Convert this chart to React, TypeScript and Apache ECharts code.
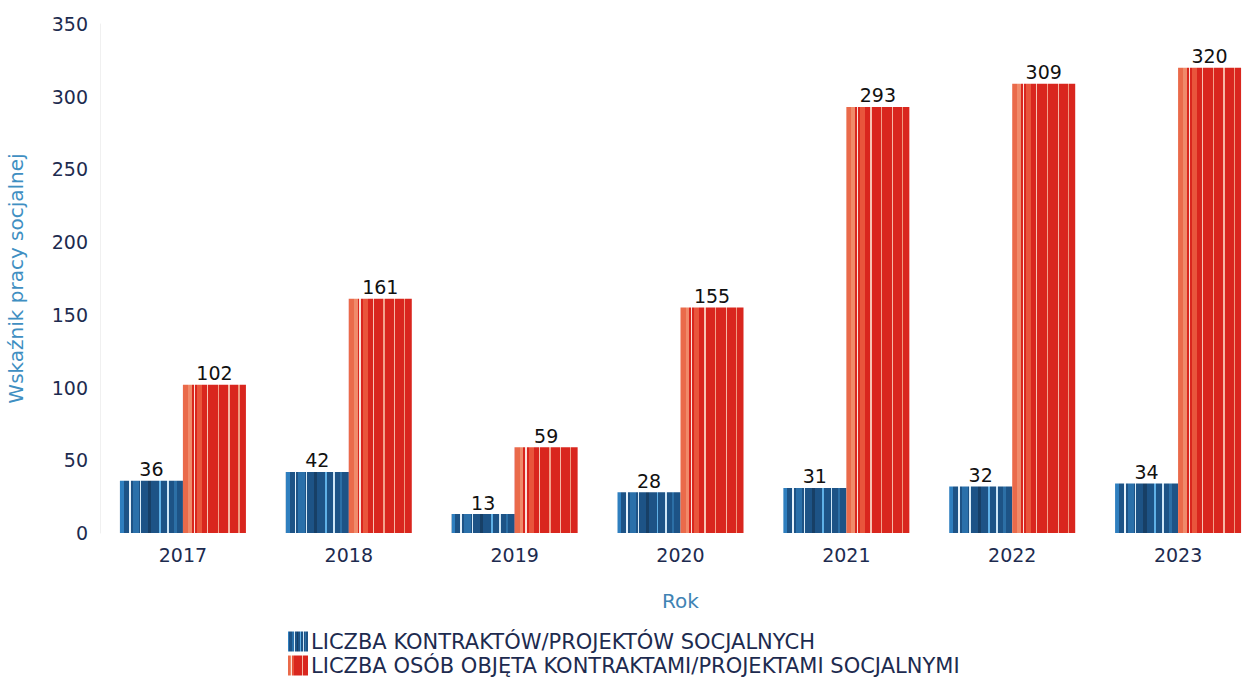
import React, { useEffect, useRef } from "react";
import * as echarts from "echarts";

const years = ["2017", "2018", "2019", "2020", "2021", "2022", "2023"];
const contracts = [36, 42, 13, 28, 31, 32, 34];
const persons = [102, 161, 59, 155, 293, 309, 320];
const seriesNames = [
  "LICZBA KONTRAKTÓW/PROJEKTÓW SOCJALNYCH",
  "LICZBA OSÓB OBJĘTA KONTRAKTAMI/PROJEKTAMI SOCJALNYMI",
];
const yTicks = { min: 0, max: 350, interval: 50 };

const FONT = "'DejaVu Sans', 'Noto Sans', sans-serif";

function stripes(base: string, bands: [number, number, string][]) {
  const stops: { offset: number; color: string }[] = [];
  let pos = 0;
  bands.forEach(([a, b, c]) => {
    stops.push({ offset: pos, color: base });
    stops.push({ offset: a, color: base });
    stops.push({ offset: a, color: c });
    stops.push({ offset: b, color: c });
    stops.push({ offset: b, color: base });
    pos = b;
  });
  stops.push({ offset: 1, color: base });
  return new echarts.graphic.LinearGradient(0, 0, 1, 0, stops);
}

const blueFill = () =>
  stripes("#1d5386", [
    [0.0, 0.06, "#2f7fbf"],
    [0.14, 0.17, "#e6f2fb"],
    [0.2, 0.3, "#2a70aa"],
    [0.32, 0.34, "#d9ecf8"],
    [0.45, 0.5, "#173f66"],
    [0.62, 0.65, "#5fb0e6"],
    [0.75, 0.78, "#cfe6f6"],
    [0.86, 0.9, "#2c6fa6"],
  ]);

const redFill = () =>
  stripes("#d9261e", [
    [0.0, 0.08, "#ea6a4a"],
    [0.08, 0.14, "#f08a6a"],
    [0.17, 0.19, "#fbe3dc"],
    [0.22, 0.3, "#e9553c"],
    [0.38, 0.4, "#f7c4b4"],
    [0.55, 0.57, "#f3a28c"],
    [0.72, 0.74, "#f6b8a6"],
    [0.88, 0.9, "#f09a80"],
  ]);

export default function App() {
  const ref = useRef<HTMLDivElement>(null);

  useEffect(() => {
    if (!ref.current) return;
    const chart = echarts.init(ref.current, undefined, { renderer: "svg" });
    const labelStyle = {
      show: true,
      position: "top" as const,
      color: "#111",
      fontSize: 19,
      fontFamily: FONT,
      distance: 2,
    };
    chart.setOption({
      animation: false,
      backgroundColor: "#ffffff",
      textStyle: { fontFamily: FONT },
      grid: {
        left: 100,
        right: -16,
        top: 24,
        bottom: 155,
        containLabel: false,
        outerBoundsMode: "none",
      },
      legend: {
        orient: "vertical",
        left: 283,
        top: 626,
        itemWidth: 20,
        itemHeight: 20,
        itemGap: 3,
        icon: "rect",
        textStyle: { color: "#1d2b4f", fontSize: 21, fontFamily: FONT, padding: [0, 0, 0, -2] },
        data: seriesNames,
      },
      xAxis: {
        type: "category",
        data: years,
        name: "Rok",
        nameLocation: "middle",
        nameGap: 58,
        nameTextStyle: { color: "#3f83b4", fontSize: 20, fontFamily: FONT },
        axisLine: { show: false },
        axisTick: { show: false },
        axisLabel: { color: "#1d2b4f", fontSize: 19, fontFamily: FONT, margin: 12 },
      },
      yAxis: {
        type: "value",
        min: yTicks.min,
        max: yTicks.max,
        interval: yTicks.interval,
        name: "Wskaźnik pracy socjalnej",
        nameLocation: "middle",
        nameRotate: 90,
        nameGap: 74,
        nameTextStyle: { color: "#3f8fc2", fontSize: 20, fontFamily: FONT },
        axisLine: { show: true, lineStyle: { color: "#f0f0f0" } },
        axisTick: { show: false },
        splitLine: { show: false },
        axisLabel: { color: "#1d2b4f", fontSize: 19, fontFamily: FONT, margin: 12 },
      },
      series: [
        {
          name: seriesNames[0],
          type: "bar",
          data: contracts,
          barWidth: 63,
          barGap: "0%",
          itemStyle: { color: blueFill() },
          label: labelStyle,
        },
        {
          name: seriesNames[1],
          type: "bar",
          data: persons,
          barWidth: 63,
          itemStyle: { color: redFill() },
          label: labelStyle,
        },
      ],
    });
    return () => chart.dispose();
  }, []);

  return (
    <div
      ref={ref}
      style={{ position: "fixed", left: 0, top: 0, width: 1245, height: 688, background: "#fff" }}
    />
  );
}
